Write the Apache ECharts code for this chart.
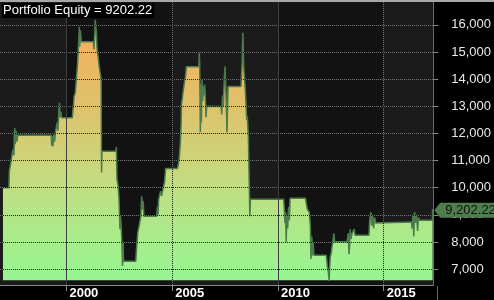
<!DOCTYPE html>
<html>
<head>
<meta charset="utf-8">
<script src="https://cdn.jsdelivr.net/npm/echarts@6/dist/echarts.min.js"></script>
<style>html,body{margin:0;padding:0;background:#000;}#c{width:494px;height:300px;}</style>
</head>
<body>
<div id="c"></div>
<script>
const TITLE_LABEL = 'Portfolio Equity';
const LAST_VALUE = 9202.22;
const X_MIN = 1996.86, X_MAX = 2017.34;
const Y_MIN = 6412, Y_MAX = 16845;
const FILL_BASE = 6590;
const yearTicks = [2000, 2005, 2010, 2015];
const solidYears = [2000, 2010];
const dottedYears = [2005, 2015];
const darkBands = [[2000, 2005], [2010, 2015]];
const valueTicks = [7000, 8000, 9000, 10000, 11000, 12000, 13000, 14000, 15000, 16000];
const equity = [
[1997.00,10000],[1997.28,10000],[1997.30,10600],[1997.36,10600],[1997.375,10930],[1997.44,10930],[1997.47,11400],[1997.52,11200],[1997.54,12000],[1997.56,12200],[1997.58,11600],[1997.62,12100],[1997.66,11700],[1997.70,11930],
[1999.28,11930],[1999.30,11550],[1999.32,11900],[1999.36,11520],[1999.40,11950],[1999.44,11700],[1999.48,12050],[1999.53,12100],[1999.56,12400],[1999.60,12100],[1999.64,12800],[1999.67,13130],[1999.70,12600],[1999.74,12800],[1999.77,12580],
[2000.28,12580],[2000.31,12900],[2000.33,13000],[2000.36,13360],[2000.42,13500],[2000.47,14000],[2000.52,14500],[2000.56,15090],[2000.59,15500],[2000.61,15930],[2000.63,15200],[2000.66,15800],[2000.70,15380],[2000.75,15380],
[2001.27,15380],[2001.30,15100],[2001.34,15700],[2001.36,16190],[2001.39,15900],[2001.41,15820],[2001.45,15090],[2001.50,14800],[2001.55,14460],[2001.60,14200],[2001.64,14000],[2001.66,10560],[2001.68,11340],
[2002.34,11340],[2002.36,11500],[2002.39,10300],[2002.44,10100],[2002.48,9680],[2002.51,9000],[2002.53,8470],[2002.55,8950],[2002.58,8700],[2002.62,8000],[2002.65,7110],[2002.68,8000],[2002.70,7290],
[2003.28,7290],[2003.30,7600],[2003.375,8360],[2003.44,8600],[2003.52,8950],[2003.54,9400],[2003.56,9680],[2003.60,9200],[2003.63,9500],[2003.66,8950],
[2004.27,8950],[2004.30,9300],[2004.33,9000],[2004.36,9570],[2004.40,9500],[2004.45,9870],[2004.50,9700],[2004.59,10050],[2004.64,10200],[2004.69,10710],
[2005.25,10710],[2005.30,10900],[2005.34,11150],[2005.39,11710],[2005.42,12330],[2005.44,13070],[2005.48,13300],[2005.53,13620],[2005.58,13900],[2005.63,14100],[2005.67,14460],
[2006.26,14460],[2006.28,15010],[2006.30,14500],[2006.33,12040],[2006.36,13800],[2006.38,12400],[2006.41,14000],[2006.44,13200],[2006.47,13730],[2006.50,13400],[2006.53,13800],[2006.56,13500],[2006.60,12600],[2006.63,13000],[2006.70,12990],
[2007.31,12990],[2007.34,12700],[2007.38,13400],[2007.42,13000],[2007.46,14000],[2007.50,14470],[2007.54,13500],[2007.59,12040],[2007.62,13000],[2007.64,13730],
[2008.25,13730],[2008.30,14500],[2008.34,15710],[2008.37,14800],[2008.39,14350],[2008.44,13800],[2008.48,13250],[2008.52,12500],[2008.55,12620],[2008.60,11900],[2008.65,11890],[2008.67,8950],[2008.70,9570],
[2010.27,9570],[2010.30,9200],[2010.33,8700],[2010.36,9100],[2010.39,8000],[2010.42,9000],[2010.46,8500],[2010.50,9300],[2010.54,8800],[2010.57,9610],
[2011.30,9610],[2011.34,9400],[2011.39,9200],[2011.44,9150],[2011.48,9090],[2011.51,8800],[2011.53,8580],[2011.56,7370],[2011.60,8200],[2011.63,7500],[2011.66,8000],[2011.70,7510],
[2012.28,7510],[2012.31,7300],[2012.33,7110],[2012.38,6900],[2012.42,6560],[2012.44,7000],[2012.47,7440],[2012.52,7600],[2012.56,7850],[2012.61,8100],[2012.64,8320],[2012.68,8010],
[2013.27,8010],[2013.32,8320],[2013.36,7550],[2013.39,7900],[2013.41,8470],[2013.45,8100],[2013.50,8300],[2013.55,8360],[2013.60,8470],[2013.64,8250],
[2014.30,8250],[2014.34,8840],[2014.39,9100],[2014.43,8600],[2014.47,9000],[2014.52,8500],[2014.57,8900],[2014.62,8700],[2014.67,8730],
[2016.31,8730],[2016.34,8500],[2016.38,9000],[2016.42,8200],[2016.46,9100],[2016.50,8700],[2016.55,9000],[2016.60,8400],[2016.64,8900],[2016.69,8800],
[2017.30,8800],[2017.31,LAST_VALUE]
];

const FONT = '"Liberation Sans", Arial, sans-serif';
const fmt = v => Math.round(v).toLocaleString('en-US');
const dotUnder = {color: '#707070', width: 1, type: [1, 1], dashOffset: 0};
const dotOver = {color: '#1e1e1e', width: 1, type: [1, 1], dashOffset: 1};
const solidOver = {color: '#404040', width: 1, type: 'solid'};
const hidden = {axisLine: {show: false}, axisLabel: {show: false}};

const chart = echarts.init(document.getElementById('c'), null, {renderer: 'canvas'});
chart.setOption({
  backgroundColor: '#000',
  animation: false,
  textStyle: {fontFamily: FONT},
  title: {
    text: TITLE_LABEL + ' = ' + LAST_VALUE.toFixed(2),
    left: 2, top: 3,
    padding: [0, 2, 1, 1],
    backgroundColor: '#000',
    textStyle: {color: '#fff', fontSize: 13, fontWeight: 'normal', fontFamily: FONT, lineHeight: 14}
  },
  grid: {left: 0, right: 57, top: 2, bottom: 14, show: true, backgroundColor: '#1b1b1b', borderWidth: 0},
  graphic: [
    {type: 'rect', shape: {x: 0, y: 0, width: 494, height: 2}, style: {fill: '#a8a8a8'}, z: 10},
    {type: 'line', shape: {x1: 437.5, y1: 286, x2: 437.5, y2: 300}, style: {stroke: '#6a6a6a', lineWidth: 1}, z: 10}
  ],
  xAxis: [{
    type: 'value', min: X_MIN, max: X_MAX, z: 1, position: 'bottom',
    axisLine: {show: true, onZero: false, lineStyle: {color: '#8a8a8a', width: 1}},
    axisTick: {show: true, customValues: yearTicks, length: 6, lineStyle: {color: '#8a8a8a'}},
    axisLabel: {customValues: yearTicks, formatter: v => String(Math.round(v)), color: '#fff', fontSize: 13, fontWeight: 'bold', fontFamily: FONT, align: 'left', margin: 2, padding: [0, 0, 0, 3]},
    splitLine: {show: false}
  }, Object.assign({
    type: 'value', min: X_MIN, max: X_MAX, z: 1, position: 'bottom',
    splitLine: {show: true, lineStyle: dotUnder}
  }, hidden, {axisTick: {show: false, customValues: dottedYears}}),
  Object.assign({
    type: 'value', min: X_MIN, max: X_MAX, z: 4, position: 'bottom',
    splitLine: {show: true, lineStyle: dotOver}
  }, hidden, {axisTick: {show: false, customValues: dottedYears}}),
  Object.assign({
    type: 'value', min: X_MIN, max: X_MAX, z: 4, position: 'bottom',
    splitLine: {show: true, lineStyle: solidOver}
  }, hidden, {axisTick: {show: false, customValues: solidYears}})],
  yAxis: [{
    type: 'value', position: 'right', min: Y_MIN, max: Y_MAX, z: 1,
    axisLine: {show: true, lineStyle: {color: '#6a6a6a', width: 1}},
    axisTick: {show: true, customValues: valueTicks, length: 5, inside: false, lineStyle: {color: '#8a8a8a'}},
    axisLabel: {customValues: valueTicks, formatter: fmt, color: '#e8e8e8', fontSize: 13, fontFamily: FONT, margin: 18},
    splitLine: {show: true, lineStyle: dotUnder}
  }, Object.assign({
    type: 'value', position: 'right', min: Y_MIN, max: Y_MAX, z: 4,
    splitLine: {show: true, lineStyle: dotOver}
  }, hidden, {axisTick: {show: false, customValues: valueTicks}})],
  series: [{
    type: 'line',
    xAxisIndex: 0, yAxisIndex: 0,
    data: equity,
    clip: false,
    symbol: 'none',
    z: 2,
    lineStyle: {color: '#4c7c4c', width: 1.5},
    areaStyle: {
      origin: FILL_BASE,
      opacity: 1,
      color: {
        type: 'linear', global: true, x: 0, y: 20, x2: 0, y2: 281,
        colorStops: [
          {offset: 0, color: '#f5ab58'},
          {offset: 0.09, color: '#f1b260'},
          {offset: 0.33, color: '#dfc26c'},
          {offset: 0.55, color: '#cbd57a'},
          {offset: 0.65, color: '#bfdf82'},
          {offset: 0.86, color: '#a6ed8c'},
          {offset: 1, color: '#96f692'}
        ]
      }
    },
    markArea: {
      silent: true,
      z: 0.5,
      itemStyle: {color: '#121212'},
      data: darkBands.map(b => [{xAxis: b[0]}, {xAxis: b[1]}])
    },
    markPoint: {
      silent: true,
      data: [{
        coord: [X_MAX, LAST_VALUE],
        symbol: 'path://M0,7.5 L6,0 L60,0 L60,15 L6,15 Z',
        symbolSize: [60, 15],
        symbolKeepAspect: false,
        symbolOffset: [31, 1],
        itemStyle: {color: '#4e7e4e'},
        label: {show: true, formatter: fmt(Math.floor(LAST_VALUE)) + '.' + LAST_VALUE.toFixed(2).split('.')[1], position: [11, 8], align: 'left', verticalAlign: 'middle', color: '#111', fontSize: 13, fontFamily: FONT}
      }]
    }
  }]
});
</script>
</body>
</html>
